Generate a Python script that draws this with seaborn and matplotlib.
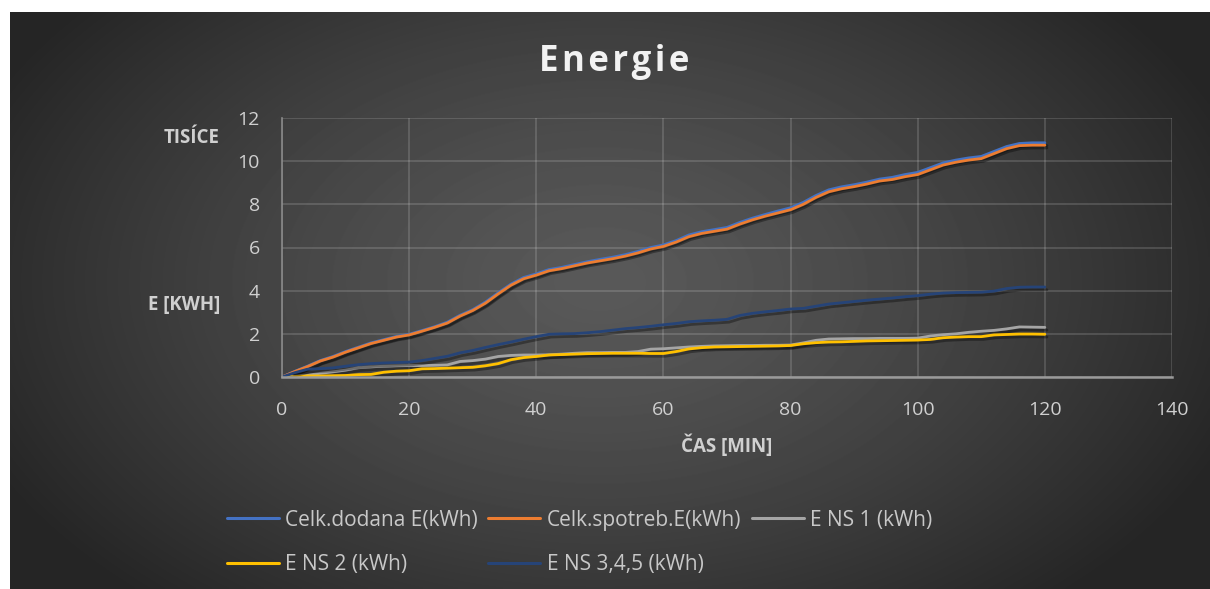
"""Energie - cumulative energy over time."""

import numpy as np
import pandas as pd
import seaborn as sns
import matplotlib.pyplot as plt
from matplotlib import patheffects as pe

# time axis [min]
minutes = list(range(0, 121, 2))

# cumulative energy, thousands of kWh
celk_dodana = [0, 0.26, 0.50, 0.76, 0.95, 1.18, 1.38, 1.58, 1.73, 1.88,
               1.98, 2.15, 2.33, 2.54, 2.86, 3.12, 3.47, 3.90, 4.30, 4.61,
               4.78, 4.98, 5.08, 5.21, 5.34, 5.45, 5.55, 5.67, 5.82, 6.00,
               6.12, 6.32, 6.58, 6.73, 6.83, 6.93, 7.16, 7.36, 7.53, 7.69,
               7.84, 8.09, 8.41, 8.67, 8.81, 8.91, 9.03, 9.17, 9.25, 9.38,
               9.48, 9.70, 9.92, 10.05, 10.15, 10.22, 10.45, 10.68, 10.82,
               10.85, 10.85]
celk_spotreb = [0, 0.25, 0.48, 0.74, 0.92, 1.15, 1.35, 1.55, 1.70, 1.85,
                1.95, 2.12, 2.30, 2.50, 2.82, 3.08, 3.42, 3.85, 4.25, 4.55,
                4.72, 4.92, 5.02, 5.15, 5.28, 5.38, 5.48, 5.60, 5.75, 5.93,
                6.05, 6.25, 6.50, 6.65, 6.75, 6.85, 7.08, 7.28, 7.45, 7.60,
                7.75, 8.00, 8.32, 8.58, 8.72, 8.82, 8.94, 9.08, 9.15, 9.28,
                9.38, 9.60, 9.82, 9.95, 10.05, 10.12, 10.35, 10.58, 10.72,
                10.74, 10.74]
e_ns1 = [0, 0.03, 0.08, 0.17, 0.24, 0.32, 0.43, 0.47, 0.50, 0.52,
         0.53, 0.53, 0.54, 0.56, 0.72, 0.76, 0.83, 0.95, 1.00, 1.02,
         1.02, 1.03, 1.06, 1.10, 1.13, 1.13, 1.14, 1.14, 1.18, 1.29,
         1.31, 1.35, 1.39, 1.42, 1.44, 1.45, 1.46, 1.46, 1.47, 1.47,
         1.48, 1.58, 1.70, 1.76, 1.77, 1.78, 1.78, 1.79, 1.79, 1.79,
         1.80, 1.90, 1.96, 2.00, 2.07, 2.12, 2.16, 2.23, 2.32, 2.31, 2.30]
e_ns2 = [0, 0.02, 0.05, 0.05, 0.06, 0.07, 0.11, 0.12, 0.22, 0.27,
         0.29, 0.38, 0.39, 0.41, 0.43, 0.45, 0.52, 0.62, 0.80, 0.90,
         0.95, 1.02, 1.04, 1.06, 1.08, 1.09, 1.10, 1.10, 1.10, 1.09,
         1.09, 1.18, 1.30, 1.36, 1.39, 1.40, 1.41, 1.42, 1.43, 1.44,
         1.46, 1.54, 1.59, 1.62, 1.63, 1.65, 1.67, 1.68, 1.69, 1.70,
         1.71, 1.74, 1.82, 1.85, 1.87, 1.87, 1.95, 1.97, 1.99, 1.99, 1.98]
e_ns345 = [0, 0.20, 0.36, 0.39, 0.42, 0.50, 0.57, 0.62, 0.65, 0.67,
           0.69, 0.76, 0.86, 0.96, 1.12, 1.23, 1.37, 1.50, 1.62, 1.75,
           1.87, 1.98, 2.00, 2.01, 2.05, 2.10, 2.17, 2.24, 2.29, 2.35,
           2.42, 2.48, 2.56, 2.60, 2.63, 2.67, 2.85, 2.95, 3.02, 3.08,
           3.15, 3.18, 3.28, 3.38, 3.44, 3.50, 3.56, 3.61, 3.66, 3.72,
           3.77, 3.84, 3.89, 3.91, 3.92, 3.93, 3.98, 4.10, 4.16, 4.17, 4.17]

series_names = ["Celk.dodana E(kWh)", "Celk.spotreb.E(kWh)", "E NS 1 (kWh)",
                "E NS 2 (kWh)", "E NS 3,4,5 (kWh)"]
series_colors = ["#4472C4", "#ED7D31", "#A5A5A5", "#FFC000", "#264478"]
x_ticks = [0, 20, 40, 60, 80, 100, 120, 140]
y_ticks = [0, 2, 4, 6, 8, 10, 12]

W, H = 1210, 589
FONT = ["Open Sans", "DejaVu Sans"]


def px(x, y):
    return x / W, 1 - y / H


def main():
    """Go Main Go."""
    sns.set_style("white")
    plt.rcParams["font.family"] = FONT

    df = pd.DataFrame({"min": minutes})
    for name, vals in zip(series_names,
                          [celk_dodana, celk_spotreb, e_ns1, e_ns2, e_ns345]):
        df[name] = vals

    fig = plt.figure(figsize=(W / 100, H / 100), dpi=100)
    fig.patch.set_facecolor("white")

    # dark radial gradient background
    bg = fig.add_axes([10 / W, 0, 1200 / W, 577 / H])
    yy, xx = np.mgrid[0:577, 0:1200]
    d = np.sqrt(((xx - 590) / 680.0) ** 2 + ((yy - 270) / 430.0) ** 2)
    d = np.clip(d, 0, 1) ** 1.3
    shade = 0.35 + (0.145 - 0.35) * d
    bg.imshow(shade, cmap="gray", vmin=0, vmax=1, aspect="auto",
              interpolation="bilinear")
    bg.set_axis_off()

    ax = fig.add_axes([282 / W, 1 - 377 / H, 890 / W, 259 / H])
    ax.patch.set_alpha(0)

    shadow = [pe.SimpleLineShadow(offset=(1.5, -2), shadow_color="black",
                                  alpha=0.35), pe.Normal()]
    handles = []
    for name, color in zip(series_names, series_colors):
        sns.lineplot(data=df, x="min", y=name, ax=ax, color=color,
                     linewidth=2.0, label=name, legend=False)
        line = ax.lines[-1]
        line.set_path_effects(shadow)
        handles.append(line)

    ax.set_xlim(0, 140)
    ax.set_ylim(0, 12)
    ax.set_xticks(x_ticks)
    ax.set_yticks(y_ticks)
    ax.grid(True, color="white", alpha=0.17, linewidth=1.2)
    ax.tick_params(axis="both", length=0, labelsize=14, colors="#d0d0d0")
    ax.tick_params(axis="x", pad=17)
    ax.tick_params(axis="y", pad=16)
    ax.set_xlabel("")
    ax.set_ylabel("")
    for side in ["top", "right"]:
        ax.spines[side].set_visible(False)
    ax.spines["left"].set_color("#8a8a8a")
    ax.spines["left"].set_linewidth(1.2)
    ax.spines["bottom"].set_color("#9a9a9a")
    ax.spines["bottom"].set_linewidth(1.8)

    # titles
    fig.text(*px(614, 62), "E\u200an\u200ae\u200ar\u200ag\u200ai\u200ae",
             ha="center", va="center", fontsize=25, fontweight="bold",
             color="#f2f2f2")
    fig.text(*px(192, 138), "TISÍCE", ha="center", va="center",
             fontsize=13.5, fontweight="bold", color="#d0d0d0")
    fig.text(*px(184, 305), "E [KWH]", ha="center", va="center",
             fontsize=13.5, fontweight="bold", color="#d0d0d0")
    fig.text(*px(727, 446), "ČAS [MIN]", ha="center", va="center",
             fontsize=13.5, fontweight="bold", color="#d0d0d0")

    # legend: row-wise order in a column-filled legend
    order = [0, 3, 1, 4, 2]
    leg = fig.legend([handles[i] for i in order],
                     [series_names[i] for i in order],
                     loc="upper left", bbox_to_anchor=px(208, 491), ncol=3,
                     frameon=False, fontsize=15, handlelength=2.5,
                     handletextpad=0.3, columnspacing=0.5, labelspacing=1.12,
                     labelcolor="#c8c8c8")
    for h in leg.legend_handles:
        h.set_path_effects([])
        h.set_linewidth(2.2)

    fig.savefig("out.png", dpi=100, facecolor=fig.get_facecolor())


if __name__ == "__main__":
    main()
